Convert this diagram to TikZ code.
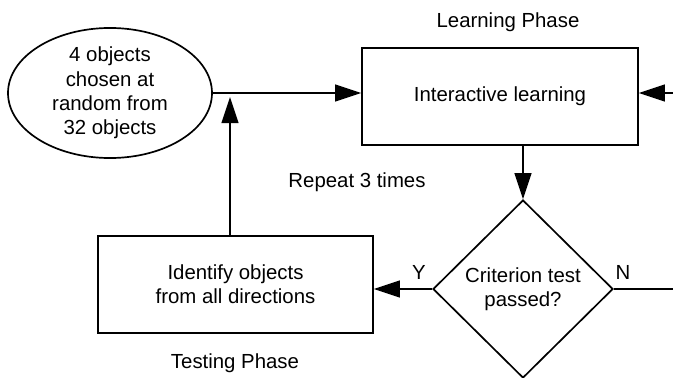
\documentclass[tikz,border=0pt]{standalone}
\usepackage{fontspec}
\setmainfont{Liberation Sans}
\usetikzlibrary{positioning, arrows.meta, shapes.geometric, calc}

\begin{document}
\begin{tikzpicture}[
      every node/.style={font=\fontsize{14.5}{17.3}\selectfont},
      stage/.style={draw, line width=1.2pt, minimum width=6.9cm, minimum height=2.43cm, align=center, inner sep=0pt},
      flow/.style={line width=1.2pt, -{Triangle[length=0.65cm, width=0.42cm]}},
    ]
    \useasboundingbox (0,0) rectangle (16.825,9.425);
    \clip (0,0) rectangle (16.825,9.425);
    \node[ellipse, draw, line width=1.2pt, minimum width=5.1cm, minimum height=3.125cm, align=center, inner sep=0pt] (pick) at (2.75, 7.1)
      {4 objects\\chosen at\\random from\\32 objects};
    \node[stage] (learn) at (12.5, 7.0125) {Interactive learning};
    \node[diamond, draw, line width=1.2pt, aspect=1, minimum width=4.5cm, minimum height=4.45cm, align=center, inner sep=0pt] (test) at (13.075, 2.2)
      {Criterion test\\passed?};
    \node[stage, minimum width=6.875cm] (ident) at (5.8875, 2.3125) {Identify objects\\from all directions};
    \node (learnlbl) at (12.7, 8.875) {Learning Phase};
    \node (repeatlbl) at (8.925, 4.875) {Repeat 3 times};
    \node (testlbl) at (5.875, 0.35) {Testing Phase};
    \node (yes) at (10.475, 2.625) {Y};
    \node (no) at (15.575, 2.625) {N};
    \coordinate (feed) at (16.825, 7.1);
    \coordinate (merge) at (5.75, 7.0);
    \coordinate (away) at (16.825, 2.2);
    \draw[flow] (pick.east) -- (pick.east -| learn.west);
    \draw[flow] (feed) -- (feed -| learn.east);
    \draw[flow] (learn.south -| test.north) -- (test.north);
    \draw[flow] (test.west) -- (test.west -| ident.east);
    \draw[line width=1.2pt] (test.east) -- (away);
    \draw[flow] (ident.north -| merge) -- (merge);
  \end{tikzpicture}
\end{document}
